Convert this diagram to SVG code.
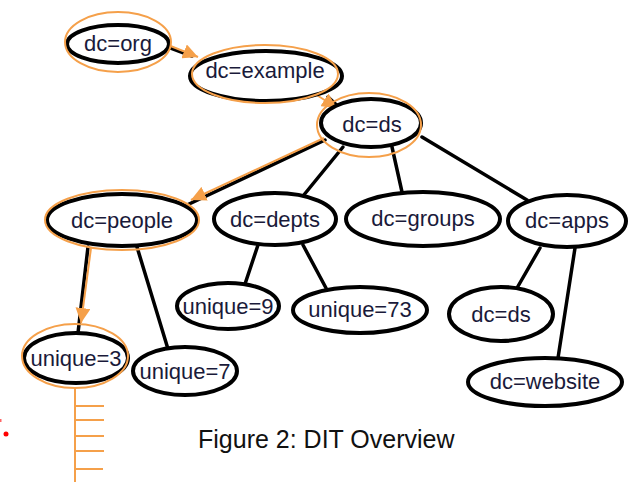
<svg xmlns="http://www.w3.org/2000/svg" width="631" height="482" viewBox="0 0 631 482">
<defs>
<style>
.n{fill:#fff;stroke:#000;stroke-width:4}
.o{fill:none;stroke:#f5a04a;stroke-width:2}
.t{font-family:"Liberation Sans",Arial,sans-serif;font-size:22px;fill:#1a1a3a;text-anchor:middle}
.c{stroke:#000;stroke-width:3.5;fill:none;stroke-linecap:round}
.a{stroke:#f5a04a;stroke-width:2;fill:none}
.cap{font-family:"Liberation Sans",Arial,sans-serif;font-size:25px;fill:#111}
</style>
<marker id="ah" viewBox="0 0 10 10" refX="10" refY="5" markerWidth="15" markerHeight="15" markerUnits="userSpaceOnUse" orient="auto">
<path d="M0,0 L10,5 L0,10 z" fill="#f5a04a"/>
</marker>
</defs>
<rect width="631" height="482" fill="#fff"/>
<g id="connectors">
<line class="c" x1="168" y1="47" x2="192" y2="56"/>
<line class="c" x1="328" y1="97" x2="342" y2="110"/>
<line class="c" x1="325" y1="140" x2="187" y2="205"/>
<line class="c" x1="343" y1="147" x2="303" y2="196"/>
<line class="c" x1="392" y1="147" x2="402" y2="192"/>
<line class="c" x1="422" y1="137" x2="527" y2="200"/>
<line class="c" x1="88" y1="247" x2="78" y2="333"/>
<line class="c" x1="137" y1="247" x2="168" y2="349"/>
<line class="c" x1="258" y1="245" x2="245" y2="284"/>
<line class="c" x1="303" y1="245" x2="326" y2="288"/>
<line class="c" x1="540" y1="248" x2="517" y2="288"/>
<line class="c" x1="575" y1="248" x2="558" y2="358"/>
<line class="a" x1="168" y1="45" x2="198" y2="57" marker-end="url(#ah)"/>
<line class="a" x1="312" y1="92" x2="337" y2="108" marker-end="url(#ah)"/>
<line class="a" x1="324" y1="138" x2="191" y2="200" marker-end="url(#ah)"/>
<line class="a" x1="91" y1="248" x2="81" y2="323" marker-end="url(#ah)"/>
</g>
<g id="dc_org"><ellipse class="n" cx="118" cy="44" rx="51" ry="19"/><ellipse class="o" cx="118" cy="42" rx="53" ry="30"/><text class="t" x="118" y="51">dc=org</text></g>
<g id="dc_example"><ellipse class="n" cx="266" cy="76" rx="76" ry="25"/><ellipse class="o" cx="265" cy="74" rx="73" ry="29"/><text class="t" x="265" y="78">dc=example</text></g>
<g id="dc_ds"><ellipse class="n" cx="371" cy="123" rx="50" ry="24"/><ellipse class="o" cx="369" cy="125" rx="52" ry="32"/><text class="t" x="372" y="132">dc=ds</text></g>
<g id="dc_people"><ellipse class="n" cx="122" cy="220" rx="75" ry="26"/><ellipse class="o" cx="122" cy="220" rx="77" ry="30"/><text class="t" x="122" y="228">dc=people</text></g>
<g id="dc_depts"><ellipse class="n" cx="275" cy="219" rx="61" ry="26"/><text class="t" x="275" y="227">dc=depts</text></g>
<g id="dc_groups"><ellipse class="n" cx="423" cy="219" rx="77" ry="27"/><text class="t" x="423" y="226">dc=groups</text></g>
<g id="dc_apps"><ellipse class="n" cx="567" cy="221" rx="59" ry="26"/><text class="t" x="567" y="228">dc=apps</text></g>
<g id="unique_9"><ellipse class="n" cx="228" cy="306" rx="51" ry="23"/><text class="t" x="228" y="314">unique=9</text></g>
<g id="unique_73"><ellipse class="n" cx="360" cy="310" rx="67" ry="23"/><text class="t" x="360" y="317">unique=73</text></g>
<g id="dc_ds2"><ellipse class="n" cx="501" cy="314" rx="52" ry="27"/><text class="t" x="501" y="322">dc=ds</text></g>
<g id="dc_website"><ellipse class="n" cx="545" cy="382" rx="77" ry="24"/><text class="t" x="545" y="389">dc=website</text></g>
<g id="unique_3"><ellipse class="n" cx="76" cy="358" rx="52" ry="25"/><ellipse class="o" cx="75" cy="356" rx="53" ry="32"/><text class="t" x="76" y="366">unique=3</text></g>
<g id="unique_7"><ellipse class="n" cx="185" cy="371" rx="52" ry="24"/><text class="t" x="185" y="379">unique=7</text></g>
<g id="ladder" stroke="#f5a04a" stroke-width="2">
<line x1="75" y1="388" x2="75" y2="482"/>
<line x1="75" y1="406" x2="104" y2="406"/>
<line x1="75" y1="420" x2="104" y2="420"/>
<line x1="75" y1="436" x2="104" y2="436"/>
<line x1="75" y1="451" x2="104" y2="451"/>
<line x1="75" y1="469" x2="103" y2="469"/>
</g>
<circle cx="6" cy="434" r="2.5" fill="#f00"/>
<rect x="0" y="419" width="1.5" height="3" fill="#f66"/>
<text class="cap" x="198" y="448">Figure 2: DIT Overview</text>
</svg>
